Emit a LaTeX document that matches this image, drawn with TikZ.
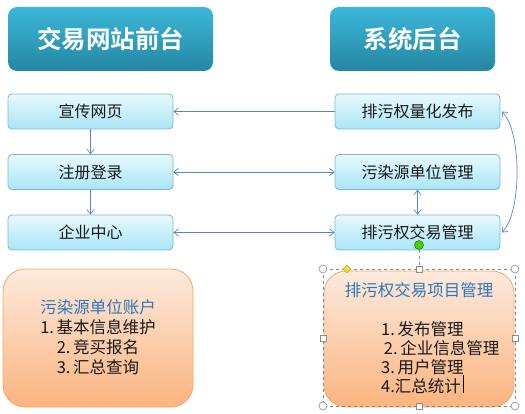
\documentclass[tikz,border=0pt]{standalone}
\usepackage{fontspec}
\setmainfont{Noto Sans CJK SC}[BoldFont={Noto Sans CJK SC Bold}]
\usepackage{xcolor}
\usetikzlibrary{arrows.meta,positioning,shapes.geometric}
\definecolor{hdrtop}{HTML}{3DB7D9}
\definecolor{hdrbot}{HTML}{2486A2}
\definecolor{itemtop}{HTML}{E8F9FD}
\definecolor{itembot}{HTML}{A9E6F6}
\definecolor{itemline}{HTML}{7DB9D2}
\definecolor{ortop}{HTML}{FDEADD}
\definecolor{orbot}{HTML}{FBB47F}
\definecolor{orline}{HTML}{F5A965}
\definecolor{arrcol}{HTML}{5B84C4}
\definecolor{ttlblue}{HTML}{2E78BE}
\definecolor{selcol}{HTML}{6B8CB5}

\begin{document}
\begin{tikzpicture}[x=1pt, y=-1pt,
  hdr/.style={rounded corners=9pt, top color=hdrtop, bottom color=hdrbot, draw=none,
    minimum height=64pt, inner sep=0pt, text=white, font=\fontsize{24.5}{28}\selectfont\bfseries},
  item/.style={draw=itemline, line width=0.8pt, top color=itemtop, bottom color=itembot,
    rounded corners=4pt, minimum width=165pt, minimum height=35pt, inner sep=0pt,
    font=\fontsize{16}{18}\selectfont, text=black!90},
  orbox/.style={draw=orline, line width=0.8pt, top color=ortop, bottom color=orbot,
    rounded corners=22pt, minimum width=190pt, inner sep=0pt},
  ortxt/.style={align=center, inner sep=0pt, font=\fontsize{16.5}{20}\selectfont, text=black!90},
  arr/.style={{Straight Barb[length=1.6mm,width=2.6mm]}-, line width=0.7pt, draw=arrcol},
  arrb/.style={{Straight Barb[length=1.6mm,width=2.6mm]}-{Straight Barb[length=1.6mm,width=2.6mm]},
    line width=0.7pt, draw=arrcol},
  hcirc/.style={circle, draw=black!45, fill=white, minimum size=8pt, inner sep=0pt, line width=0.6pt},
  hsq/.style={rectangle, draw=black!45, fill=white, minimum size=6pt, inner sep=0pt, line width=0.6pt}
]
  \useasboundingbox (0,0) rectangle (525,414);
  % headers
  \node[hdr, minimum width=205pt] (front) at (110.5,39) {交易网站前台};
  \node[hdr, minimum width=165pt] (back) at (412.5,39) {系统后台};
  % front pages
  \node[item] (xc) at (90.5,111.5) {宣传网页};
  \node[item] (zc) at (90.5,172) {注册登录};
  \node[item] (qy) at (90.5,232.5) {企业中心};
  % back modules
  \node[item] (fb) at (417.5,111.5) {排污权量化发布};
  \node[item] (wr) at (417.5,172) {污染源单位管理};
  \node[item] (jy) at (417.5,232.5) {排污权交易管理};
  % detail boxes
  \node[orbox, minimum height=138pt] (acct) at (98,338) {};
  \node[ortxt] (acctt) at (98,337.5)
    {\textcolor{ttlblue}{污染源单位账户}\\1.\,基本信息维护\\2.\,竞买报名\\3.\,汇总查询};
  \node[orbox, minimum height=136pt] (proj) at (419,339) {};
  \node[ortxt, text=ttlblue] (projt) at (419,290) {排污权交易项目管理};
  \node[ortxt, align=left, anchor=west, font=\fontsize{16.5}{19}\selectfont] (projl) at (381,357.5)
    {1.\,发布管理\\\,2.\,企业信息管理\\3.\,用户管理\\4.汇总统计};
  \draw[black, line width=0.6pt] ([xshift=82pt, yshift=1pt]projl.south west) -- ++(0,-18);
  % selection handles
  \draw[selcol, dashed, line width=0.6pt] (323,269) rectangle (515,406);
  \node[hsq] (selT) at (419,269) {};
  \node[hsq] (selB) at (419,406) {};
  \node[hsq] (selL) at (323,338) {};
  \node[hsq] (selR) at (515,338) {};
  \node[hcirc] (selTL) at (323,269) {};
  \node[hcirc] (selTR) at (515,269) {};
  \node[hcirc] (selBL) at (323,406) {};
  \node[hcirc] (selBR) at (515,406) {};
  \node[diamond, draw=black!40, fill=yellow!85!orange, minimum size=8pt, inner sep=0pt] (adj) at (347,269) {};
  \node[circle, draw=green!40!black, fill=green!70!black!60!lime, minimum size=9pt, inner sep=0pt] (rot) at (419,245) {};
  \draw[selcol, dashed, line width=0.6pt] (rot) -- (selT);
  % connectors
  \draw[arr] (xc) -- (fb);
  \draw[arrb] (zc) -- (wr);
  \draw[arrb] (qy) -- (jy);
  \draw[arr] (zc) -- (xc);
  \draw[arr] (qy) -- (zc);
  \draw[arrb] (wr) -- (jy);
  \draw[arrb] ([xshift=1.5pt]fb.east) to[out=-45, in=45, looseness=0.6] ([xshift=1.5pt]jy.east);
\end{tikzpicture}
\end{document}
